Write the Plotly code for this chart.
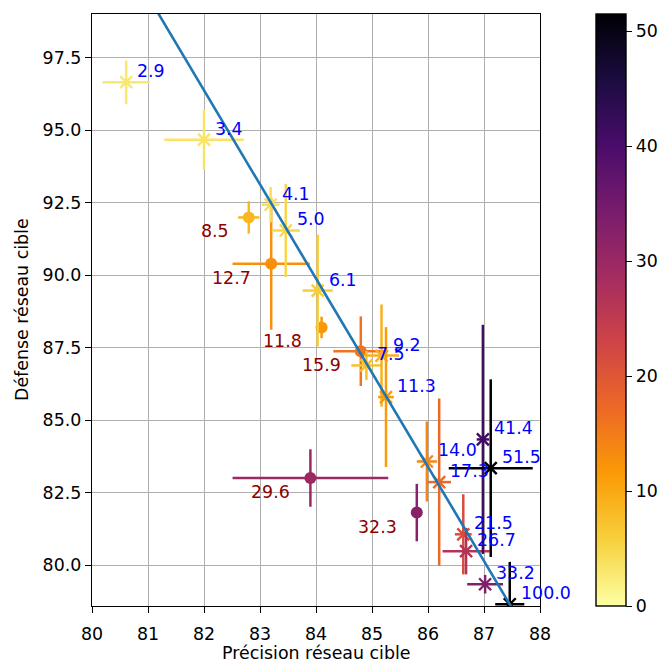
import plotly.graph_objects as go

# ---- data ----
star_val = [2.9, 3.4, 4.1, 5.0, 6.1, 7.5, 9.2, 11.3, 14.0, 17.3, 21.5, 26.7, 33.2, 41.4, 51.5, 100.0]
star_x = [80.61, 82.00, 83.19, 83.46, 84.03, 84.90, 85.17, 85.25, 85.98, 86.20, 86.63, 86.68, 87.02, 86.98, 87.12, 87.46]
star_y = [96.65, 94.67, 92.43, 91.54, 89.47, 86.89, 87.23, 85.80, 83.58, 82.87, 81.07, 80.49, 79.35, 84.34, 83.35, 78.66]
star_xerr = [0.42, 0.71, 0.16, 0.25, 0.27, 0.27, 0.31, 0.14, 0.18, 0.21, 0.15, 0.42, 0.32, 0.11, 0.75, 0.26]
star_yerr = [0.75, 1.03, 0.61, 1.60, 1.93, 0.50, 1.76, 2.41, 1.38, 2.88, 1.38, 0.80, 0.32, 3.95, 3.06, 1.46]

circ_val = [8.5, 12.7, 11.8, 15.9, 29.6, 32.3]
circ_x = [82.80, 83.20, 84.10, 84.80, 83.90, 85.80]
circ_y = [91.99, 90.39, 88.20, 87.38, 83.01, 81.82]
circ_xerr = [0.19, 0.69, 0.05, 0.49, 1.39, 0.05]
circ_yerr = [0.56, 2.27, 0.37, 1.20, 0.99, 0.99]

fit_slope = -3.244
fit_intercept = 362.38
fit_x = [80.5, 87.6]

x_title = 'Précision réseau cible'
y_title = 'Défense réseau cible'

cmin, cmax = 0.0, 51.5
inferno_r = ['#fcffa4', '#f7d13d', '#fb9b06', '#ed6925', '#cf4446',
             '#a52c60', '#781c6d', '#4a0c6b', '#1b0c41', '#000004']

FS = 17.4
W, H = 664, 660
ML, MR, MT, MB = 92, 124, 14, 54


def hex2rgb(h):
    h = h.lstrip('#')
    return tuple(int(h[i:i + 2], 16) for i in (0, 2, 4))


def cmap(v):
    t = (v - cmin) / (cmax - cmin)
    t = min(max(t, 0.0), 1.0)
    n = len(inferno_r) - 1
    i = min(int(t * n), n - 1)
    f = t * n - i
    a, b = hex2rgb(inferno_r[i]), hex2rgb(inferno_r[i + 1])
    c = [round(a[k] + (b[k] - a[k]) * f) for k in range(3)]
    return f'rgb({c[0]},{c[1]},{c[2]})'


fig = go.Figure()
annotations = []

for x, y, xe, ye, v in zip(circ_x, circ_y, circ_xerr, circ_yerr, circ_val):
    c = cmap(v)
    fig.add_trace(go.Scatter(
        x=[x], y=[y], mode='markers', showlegend=False,
        marker=dict(symbol='circle', size=12, color=c),
        error_x=dict(type='data', array=[xe], color=c, thickness=2.5, width=0),
        error_y=dict(type='data', array=[ye], color=c, thickness=2.5, width=0)))
    annotations.append(dict(x=x, y=y, text=f'{v:.1f}', showarrow=False,
                            xanchor='right', yanchor='middle', xshift=-18, yshift=-14,
                            font=dict(color='#8b0000', size=FS)))

for x, y, xe, ye, v in zip(star_x, star_y, star_xerr, star_yerr, star_val):
    c = cmap(v)
    fig.add_trace(go.Scatter(
        x=[x], y=[y], mode='markers', showlegend=False,
        marker=dict(symbol='x-thin', size=12, color=c, line=dict(color=c, width=2.4)),
        error_x=dict(type='data', array=[xe], color=c, thickness=2.5, width=0),
        error_y=dict(type='data', array=[ye], color=c, thickness=2.5, width=0)))
    annotations.append(dict(x=x, y=y, text=f'{v:.1f}', showarrow=False,
                            xanchor='left', yanchor='middle', xshift=9, yshift=11,
                            font=dict(color='#0000ff', size=FS)))

# axis titles as paper annotations
annotations.append(dict(xref='paper', yref='paper', x=0.5, y=0, yshift=-47,
                        xanchor='center', yanchor='middle', showarrow=False,
                        text=x_title, font=dict(size=FS, color='black')))
annotations.append(dict(xref='paper', yref='paper', x=0, y=0.5, xshift=-70,
                        xanchor='center', yanchor='middle', showarrow=False, textangle=-90,
                        text=y_title, font=dict(size=FS, color='black')))

fig.add_trace(go.Scatter(
    x=fit_x, y=[fit_intercept + fit_slope * xx for xx in fit_x],
    mode='lines', line=dict(color='#1f77b4', width=2.6), showlegend=False))

# colorbar holder
cb_left, cb_thick = 596, 30
fig.add_trace(go.Scatter(
    x=[None], y=[None], mode='markers', showlegend=False,
    marker=dict(color=[0], cmin=cmin, cmax=cmax, colorscale='Inferno_r', showscale=True,
                colorbar=dict(xref='container',
                              x=cb_left / W, xanchor='left',
                              y=0.5, yanchor='middle',
                              len=1.0, lenmode='fraction',
                              thickness=cb_thick, xpad=0, ypad=0,
                              outlinewidth=1.4, outlinecolor='black',
                              ticks='outside', ticklen=6, tickcolor='black', tickwidth=1.4,
                              tickvals=[0, 10, 20, 30, 40, 50],
                              tickfont=dict(size=FS, color='black')))))

axis_common = dict(showgrid=True, gridcolor='#b0b0b0', gridwidth=1.4,
                   showline=True, linecolor='black', linewidth=1.4, mirror=True,
                   ticks='outside', ticklen=6, tickwidth=1.4, tickcolor='black', zeroline=False,
                   automargin=False,
                   tickfont=dict(size=FS, color='black'))

fig.update_layout(
    width=W, height=H, autosize=False,
    margin=dict(l=ML, r=MR, t=MT, b=MB),
    plot_bgcolor='white', paper_bgcolor='white',
    font=dict(family='DejaVu Sans', size=FS, color='black'),
    xaxis=dict(range=[80, 88], tick0=80, dtick=1, ticklabelstandoff=6,
               **axis_common),
    yaxis=dict(range=[78.6, 99.0], tickvals=[80, 82.5, 85, 87.5, 90, 92.5, 95, 97.5],
               tickformat='.1f',
               **axis_common),
    annotations=annotations,
)

post = ("document.body.style.margin='0px';"
        "document.documentElement.style.overflow='hidden';"
        "document.body.style.overflow='hidden';")

fig.write_html('out.html', post_script=post, config={'displayModeBar': False})
